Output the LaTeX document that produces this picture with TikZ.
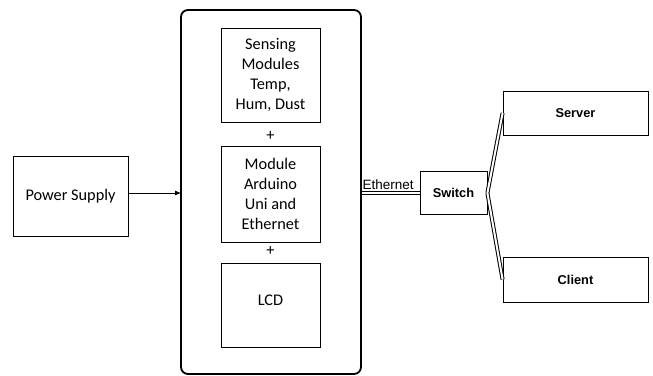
\documentclass[tikz,border=0pt]{standalone}
\usepackage{fontspec}
\setmainfont{Carlito}
\newfontfamily\arialfont{Liberation Sans}
\usetikzlibrary{arrows.meta}
\begin{document}
\begin{tikzpicture}[x=1pt,y=-1pt,
  box/.style={draw=black,line width=0.8pt,inner sep=0pt,align=center},
  calib/.style={font=\fontsize{16.3}{20}\selectfont},
  arialb/.style={font=\arialfont\bfseries\fontsize{12.8}{15}\selectfont},
  link/.style={double=white,double distance=2pt,line width=1pt,draw=black}]
\useasboundingbox (0,0) rectangle (653,375);
% controller enclosure
\draw[line width=1.8pt,rounded corners=7pt] (181,10) rectangle (361,374);
% inner modules
\node[box,calib,minimum width=99pt,minimum height=94pt] (sense) at (270.5,75) {Sensing\\Modules\\Temp,\\Hum, Dust};
\node[box,calib,minimum width=99pt,minimum height=96pt] (ard) at (270.5,194) {Module\\Arduino\\Uni and\\Ethernet};
\node[box,calib,minimum width=99pt,minimum height=84pt] (lcd) at (270.5,305) {};
\node[calib] (lcdt) at (270.5,300) {LCD};
\node[calib] (p1) at (270.5,136) {+};
\node[calib] (p2) at (270.5,251) {+};
% power supply
\node[box,calib,minimum width=115pt,minimum height=80pt] (ps) at (70.5,196) {Power Supply};
\coordinate (encin) at (181,193);
\draw[line width=0.8pt,-{Latex[length=6pt,width=5pt]}] (ps.east |- encin) -- (encin);
% network side
\node[box,arialb,minimum width=67pt,minimum height=43pt] (sw) at (453.5,193) {Switch};
\coordinate (encout) at (362,193);
\draw[link] (encout) -- (sw.west);
\node[font=\arialfont\fontsize{13.5}{15}\selectfont,anchor=base west,inner sep=0pt] (eth) at (362.5,189) {Ethernet};
\node[box,arialb,minimum width=145pt,minimum height=44pt] (srv) at (575.5,113) {Server};
\node[box,arialb,minimum width=145pt,minimum height=45pt] (cli) at (575.5,279.5) {Client};
\draw[link] (sw.east) -- (srv.west);
\draw[link] (sw.east) -- (cli.west);
\end{tikzpicture}
\end{document}
